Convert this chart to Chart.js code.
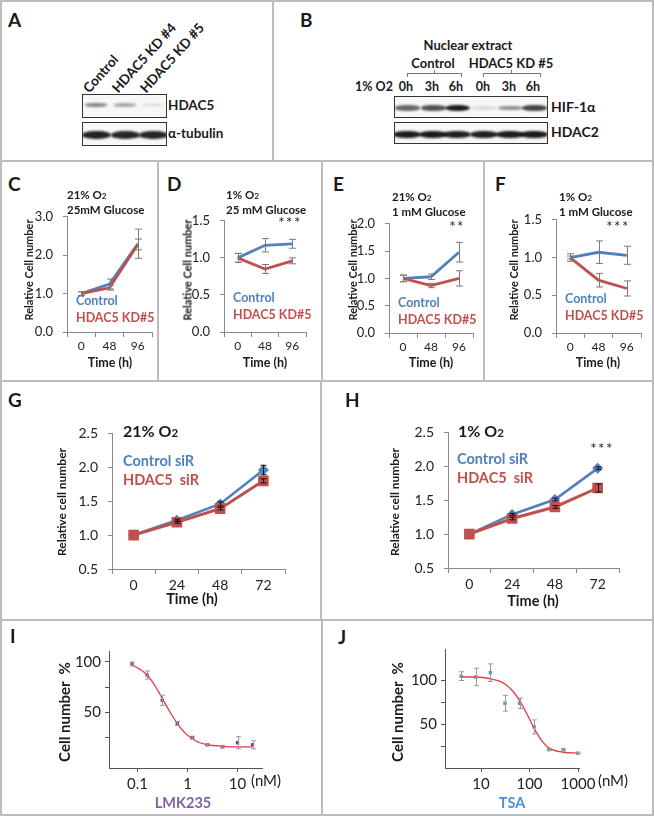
<!DOCTYPE html>
<html><head><meta charset="utf-8">
<script src="https://cdn.jsdelivr.net/npm/chart.js@4.4.1/dist/chart.umd.min.js"></script>
<style>
body{margin:0;background:#fff;}
#fig{position:relative;width:654px;height:816px;background:#fff;overflow:hidden;font-family:Lato,"Open Sans",sans-serif;color:#1a1a1a;}
.t{position:absolute;white-space:nowrap;line-height:1;z-index:5;}
canvas{position:absolute;z-index:2;}
.ln{position:absolute;background:#bcbcbc;z-index:1;}
.box{position:absolute;border:1.5px solid #333;box-sizing:border-box;background:#f7f7f7;overflow:hidden;z-index:3;}
.band{position:absolute;border-radius:45%;filter:blur(1.1px);}
.br{position:absolute;border:1px solid #777;border-bottom:none;height:3px;z-index:3;}
.brm{position:absolute;width:1px;height:3px;background:#777;z-index:3;}
</style></head><body><div id="fig"></div>
<script>
// ---------------- DATA ----------------
const lanesA = ['Control', 'HDAC5 KD #4', 'HDAC5 KD #5'];
const hdac5Band = [0.5, 0.35, 0.14];
const tubulinBand = [0.92, 0.9, 0.9];
const lanesB = ['0h', '3h', '6h', '0h', '3h', '6h'];
const hifBand = [0.62, 0.72, 0.95, 0.12, 0.45, 0.78];
const hdac2Band = [0.95, 0.95, 0.93, 0.93, 0.95, 0.95];

const timeCF = ['0', '48', '96'];
const cCtrl = [1.0, 1.25, 2.30], cCtrlErr = [0.05, 0.13, 0.38];
const cKD = [1.0, 1.15, 2.28], cKDErr = [0.05, 0.06, 0.14];
const dCtrl = [1.0, 1.17, 1.19], dCtrlErr = [0.06, 0.09, 0.06];
const dKD = [1.0, 0.85, 0.96], dKDErr = [0.06, 0.06, 0.04];
const eCtrl = [1.0, 1.03, 1.48], eCtrlErr = [0.06, 0.05, 0.18];
const eKD = [1.0, 0.87, 1.0], eKDErr = [0.06, 0.04, 0.14];
const fCtrl = [1.0, 1.07, 1.03], fCtrlErr = [0.05, 0.15, 0.12];
const fKD = [1.0, 0.70, 0.59], fKDErr = [0.02, 0.09, 0.10];

const timeGH = ['0', '24', '48', '72'];
const gCtrl = [1.0, 1.22, 1.46, 1.96], gCtrlErr = [0, 0.015, 0.03, 0.07];
const gKD = [1.0, 1.19, 1.39, 1.80], gKDErr = [0, 0.015, 0.02, 0.03];
const hCtrl = [1.0, 1.29, 1.51, 1.97], hCtrlErr = [0, 0.015, 0.02, 0.02];
const hKD = [1.0, 1.23, 1.40, 1.68], hKDErr = [0, 0.02, 0.02, 0.06];

const iConc = [0.078, 0.156, 0.3125, 0.625, 1.25, 2.5, 5, 10, 20];
const iCell = [98, 87, 62, 39, 25, 18, 16, 20, 18];
const iErr = [2, 4, 5, 2, 1.5, 1, 1, 6, 4];
const iFitX = [0.078, 0.11, 0.156, 0.22, 0.3125, 0.44, 0.625, 0.88, 1.25, 1.77, 2.5, 5, 10, 20];
const iFitY = [97, 93, 87, 77, 64, 51, 39, 30, 24, 20, 18, 16.5, 16, 16];
const iTicksX = [0.1, 1, 10];

const jConc = [3.9, 7.8, 15.6, 31.25, 62.5, 125, 250, 500, 1000];
const jCell = [105, 104, 109, 74, 74, 47, 21, 21, 17];
const jErr = [5, 10, 10, 9, 6, 8, 1, 1, 1];
const jFitX = [3.9, 7.8, 15.6, 25, 31.25, 45, 62.5, 90, 125, 180, 250, 500, 1000];
const jFitY = [104, 104, 102, 99, 96, 88, 77, 61, 45, 31, 23, 18, 17];
const jTicksX = [10, 100, 1000];
const doseTicksY = [25, 50, 75, 100];
const doseLabelsY = [50, 100];

// ---------------- HELPERS ----------------
const fig = document.getElementById('fig');
const BLUE = '#4f81bd', RED = '#c0504d', AX = '#8a8a8a';
Chart.defaults.font.family = 'Lato, "Open Sans", sans-serif';
Chart.defaults.color = '#222';

function T(x, y, html, o) {
  o = o || {};
  const d = document.createElement('div');
  d.className = 't'; d.innerHTML = html;
  d.style.left = x + 'px'; d.style.top = y + 'px';
  d.style.fontSize = (o.s || 12) + 'px';
  d.style.fontWeight = o.n ? 'normal' : 'bold';
  if (o.c) d.style.color = o.c;
  if (o.ls) d.style.letterSpacing = o.ls + 'px';
  const ax = o.a === 'c' ? '-50%' : o.a === 'r' ? '-100%' : '0';
  d.style.transform = `translate(${ax},-50%)` + (o.rot ? ` rotate(${o.rot}deg)` : '');
  fig.appendChild(d);
  return d;
}
function L(x, y, w, h) { const d = document.createElement('div'); d.className = 'ln'; Object.assign(d.style, {left: x + 'px', top: y + 'px', width: w + 'px', height: h + 'px'}); fig.appendChild(d); }
function box(x1, y1, x2, y2) { const d = document.createElement('div'); d.className = 'box'; Object.assign(d.style, {left: x1 + 'px', top: y1 + 'px', width: (x2 - x1) + 'px', height: (y2 - y1) + 'px'}); fig.appendChild(d); return d; }
function bands(bx, x0, y0, centers, vals, w, hBase, hVar, yc) {
  vals.forEach((a, i) => {
    const h = hBase + hVar * a;
    const d = document.createElement('div'); d.className = 'band';
    Object.assign(d.style, {left: (centers[i] - w / 2 - x0) + 'px', top: (yc - h / 2 - y0) + 'px', width: w + 'px', height: h + 'px', background: `rgba(15,15,15,${a})`});
    bx.appendChild(d);
  });
}
const O2 = 'O<span style="font-size:72%">2</span>';

const errPlugin = {
  id: 'errbars',
  afterDatasetsDraw(chart) {
    const ctx = chart.ctx;
    chart.data.datasets.forEach((ds, di) => {
      if (!ds.errors) return;
      const meta = chart.getDatasetMeta(di);
      const ys = chart.scales[meta.yAxisID];
      ctx.save(); ctx.strokeStyle = ds.errorColor || '#555'; ctx.lineWidth = 1;
      meta.data.forEach((pt, i) => {
        const v = ds.data[i]; const val = (typeof v === 'object') ? v.y : v;
        const e = ds.errors[i]; if (!e) return;
        const x = Math.round(pt.x) + 0.5, y1 = ys.getPixelForValue(val + e), y2 = ys.getPixelForValue(val - e), cw = ds.capWidth || 3;
        ctx.beginPath();
        ctx.moveTo(x, y1); ctx.lineTo(x, y2);
        ctx.moveTo(x - cw, y1); ctx.lineTo(x + cw, y1);
        ctx.moveTo(x - cw, y2); ctx.lineTo(x + cw, y2);
        ctx.stroke();
      });
      ctx.restore();
    });
  }
};

function mk(area, pad, config) {
  const c = document.createElement('canvas');
  const W = area.r - area.l + pad.l + pad.r, H = area.b - area.t + pad.t + pad.b;
  c.width = W; c.height = H;
  Object.assign(c.style, {left: (area.l - pad.l) + 'px', top: (area.t - pad.t) + 'px', width: W + 'px', height: H + 'px'});
  fig.appendChild(c);
  const o = config.options;
  o.responsive = false; o.animation = false; o.devicePixelRatio = 1;
  o.layout = {padding: {top: pad.t, right: pad.r, left: 0, bottom: 0}};
  o.plugins = {legend: {display: false}, tooltip: {enabled: false}};
  o.scales.x.afterFit = s => { s.height = pad.b; };
  o.scales.y.afterFit = s => { s.width = pad.l; };
  config.plugins = [errPlugin];
  return new Chart(c, config);
}

function lineChart(area, labels, sets, y, opt) {
  const pad = {l: 60, r: 12, t: 12, b: 40};
  return mk(area, pad, {
    type: 'line',
    data: {labels, datasets: sets.map(s => ({
      data: s.data, errors: s.err, borderColor: s.color, backgroundColor: s.color,
      borderWidth: s.bw || 2.8, pointRadius: s.pr || 0, pointStyle: s.ps || 'circle',
      pointBorderWidth: 0, tension: 0, errorColor: opt.errColor, capWidth: opt.cap
    }))},
    options: {scales: {
      x: {type: 'category', offset: true,
        grid: {offset: true, drawOnChartArea: false, tickLength: 5, color: AX},
        border: {color: AX, width: 1},
        ticks: {font: {size: opt.xfs}, padding: opt.xpad, maxRotation: 0, autoSkip: false}},
      y: {type: 'linear', min: y.min, max: y.max,
        grid: {drawOnChartArea: false, tickLength: 4, color: AX},
        border: {color: AX, width: 1},
        ticks: {stepSize: y.step, font: {size: opt.yfs}, padding: opt.ypad, callback: v => v.toFixed(1)}}
    }}
  });
}

function doseChart(area, conc, cell, err, fx, fy, xr, yr, xt, color) {
  const pad = {l: 60, r: 30, t: 12, b: 40};
  return mk(area, pad, {
    type: 'scatter',
    data: {datasets: [
      {data: fx.map((x, i) => ({x, y: fy[i]})), showLine: true, borderColor: '#e63c44', borderWidth: 1.3,
       pointRadius: 0, cubicInterpolationMode: 'monotone'},
      {data: conc.map((x, i) => ({x, y: cell[i]})), errors: err, pointStyle: 'rect', pointRadius: 2.4,
       backgroundColor: color, borderColor: color, borderWidth: 0, errorColor: '#9a9a9a', capWidth: 2.5}
    ]},
    options: {scales: {
      x: {type: 'logarithmic', min: xr[0], max: xr[1],
        afterBuildTicks: s => { s.ticks = xt.map(v => ({value: v})); },
        grid: {drawOnChartArea: false, tickLength: 4, color: '#555'},
        border: {color: '#555', width: 1},
        ticks: {font: {size: 15}, padding: 3, maxRotation: 0, autoSkip: false, callback: v => String(v)}},
      y: {type: 'linear', min: yr[0], max: yr[1],
        afterBuildTicks: s => { s.ticks = doseTicksY.map(v => ({value: v})); },
        grid: {drawOnChartArea: false, tickLength: 4, color: '#555'},
        border: {color: '#555', width: 1},
        ticks: {font: {size: 15}, padding: 4, callback: v => doseLabelsY.includes(v) ? String(v) : ''}}
    }}
  });
}

// ---------------- FRAME ----------------
L(0, 0, 654, 2); L(0, 814, 654, 2); L(0, 0, 2, 816); L(652, 0, 2, 816);
L(0, 160, 654, 2); L(0, 380, 654, 2); L(0, 619, 654, 2);
L(272, 0, 2, 161); L(157, 161, 2, 220); L(321, 161, 2, 220); L(483, 161, 2, 220);
L(320, 381, 2, 239); L(321, 620, 2, 196);

// ---------------- PANEL A ----------------
T(8, 19, 'A', {s: 19});
const bA1 = box(82, 94, 167, 118), bA2 = box(82, 122, 167, 146);
const lanesAx = [95, 124, 152];
bands(bA1, 82, 94, lanesAx, hdac5Band, 22, 2.5, 1.5, 104);
bands(bA2, 82, 122, lanesAx, tubulinBand, 29, 5, 4, 134);
T(168, 106, 'HDAC5', {s: 13.5});
T(168, 134, 'α-tubulin', {s: 13.5});
lanesA.forEach((s, i) => {
  const d = T(lanesAx[i] - 4, 0, s, {s: 13.5});
  d.style.top = (95 - 13.5) + 'px';
  d.style.transformOrigin = '0 100%';
  d.style.transform = 'rotate(-48deg)';
});

// ---------------- PANEL B ----------------
T(300, 19, 'B', {s: 19});
T(468, 45, 'Nuclear extract', {s: 13, a: 'c'});
T(433, 63, 'Control', {s: 13, a: 'c'});
T(511, 63, 'HDAC5 KD #5', {s: 13, a: 'c'});
[[407, 460], [483, 539]].forEach(([a, b]) => {
  const d = document.createElement('div'); d.className = 'br';
  Object.assign(d.style, {left: a + 'px', top: '73px', width: (b - a) + 'px'}); fig.appendChild(d);
  const m = document.createElement('div'); m.className = 'brm';
  Object.assign(m.style, {left: Math.round((a + b) / 2) + 'px', top: '70px'}); fig.appendChild(m);
});
T(355, 87, '1% O2', {s: 12.5});
const lanesBx = [406, 432, 456, 483, 509, 533];
lanesB.forEach((s, i) => T(lanesBx[i], 87, s, {s: 12.5, a: 'c'}));
const bB1 = box(394, 96, 548, 118), bB2 = box(394, 122, 548, 144);
bands(bB1, 394, 96, lanesBx, hifBand, 25, 3, 4, 107);
bands(bB2, 394, 122, lanesBx, hdac2Band, 28, 5, 3, 133.5);
T(551, 107, 'HIF-1α', {s: 14});
T(551, 132, 'HDAC2', {s: 14});

// ---------------- PANELS C-F ----------------
const cfOpt = {xfs: 12, yfs: 13, xpad: 2, ypad: 10, errColor: '#7a7a7a', cap: 3.5};
lineChart({l: 67, r: 152, t: 211, b: 332}, timeCF,
  [{data: cKD, err: cKDErr, color: RED}, {data: cCtrl, err: cCtrlErr, color: BLUE}], {min: 0, max: 3, step: 1}, cfOpt);
lineChart({l: 224, r: 306, t: 215, b: 332}, timeCF,
  [{data: dKD, err: dKDErr, color: RED}, {data: dCtrl, err: dCtrlErr, color: BLUE}], {min: 0, max: 1.5, step: 0.5}, cfOpt);
lineChart({l: 389, r: 473, t: 218, b: 333}, timeCF,
  [{data: eKD, err: eKDErr, color: RED}, {data: eCtrl, err: eCtrlErr, color: BLUE}], {min: 0, max: 2, step: 0.5}, cfOpt);
lineChart({l: 556, r: 641, t: 214, b: 333}, timeCF,
  [{data: fKD, err: fKDErr, color: RED}, {data: fCtrl, err: fCtrlErr, color: BLUE}], {min: 0, max: 1.5, step: 0.5}, cfOpt);

T(8, 183, 'C', {s: 19}); T(167, 183, 'D', {s: 19}); T(333, 183, 'E', {s: 19}); T(495, 183, 'F', {s: 19});
const cfTitles = [[67, 195, '21% ' + O2, '25mM Glucose'], [226, 195, '1% ' + O2, '25 mM Glucose'],
  [392, 197, '21% ' + O2, '1 mM Glucose'], [559, 197, '1% ' + O2, '1 mM Glucose']];
cfTitles.forEach(([x, y, a, b]) => { T(x, y, a, {s: 11.5}); T(x, y + 15, b, {s: 11.5}); });
[[76, 301], [233, 298], [398, 303], [565, 299]].forEach(([x, y]) => {
  T(x, y, 'Control', {s: 12.5, c: BLUE}); T(x, y + 17, 'HDAC5 KD#5', {s: 12.5, c: RED});
});
[28, 187, 352, 513].forEach(x => T(x, 270, 'Relative Cell number', {s: 11, a: 'c', rot: -90}));
[110, 265, 431, 598].forEach(x => T(x, 363, 'Time (h)', {s: 12.5, a: 'c'}));
T(290, 222, '***', {s: 15, a: 'c', n: true, ls: 1.5});
T(457, 226, '**', {s: 15, a: 'c', n: true, ls: 1.5});
T(618, 226, '***', {s: 15, a: 'c', n: true, ls: 1.5});

// ---------------- PANELS G-H ----------------
const ghOpt = {xfs: 14, yfs: 14, xpad: 3, ypad: 10, errColor: '#111', cap: 3};
lineChart({l: 112, r: 285, t: 427, b: 569}, timeGH,
  [{data: gKD, err: gKDErr, color: RED, pr: 7.5, ps: 'rect', bw: 3},
   {data: gCtrl, err: gCtrlErr, color: BLUE, pr: 5.5, ps: 'rectRot', bw: 2.6}], {min: 0.5, max: 2.5, step: 0.5}, ghOpt);
lineChart({l: 448, r: 619, t: 426, b: 568}, timeGH,
  [{data: hKD, err: hKDErr, color: RED, pr: 7.5, ps: 'rect', bw: 3},
   {data: hCtrl, err: hCtrlErr, color: BLUE, pr: 5.5, ps: 'rectRot', bw: 2.6}], {min: 0.5, max: 2.5, step: 0.5}, ghOpt);
T(8, 399, 'G', {s: 19}); T(345, 399, 'H', {s: 19});
T(123, 431, '21% ' + O2, {s: 16}); T(123, 461, 'Control siR', {s: 14.5, c: BLUE}); T(123, 480, 'HDAC5&nbsp; siR', {s: 14.5, c: RED});
T(458, 431, '1% ' + O2, {s: 16}); T(457, 459, 'Control siR', {s: 14.5, c: BLUE}); T(457, 478, 'HDAC5&nbsp; siR', {s: 14.5, c: RED});
T(602, 448, '***', {s: 15, a: 'c', n: true, ls: 1.5});
T(62, 502, 'Relative cell number', {s: 12, a: 'c', rot: -90});
T(395, 502, 'Relative cell number', {s: 12, a: 'c', rot: -90});
T(192, 599, 'Time (h)', {s: 14.5, a: 'c'});
T(533, 601, 'Time (h)', {s: 14.5, a: 'c'});

// ---------------- PANELS I-J ----------------
doseChart({l: 109, r: 262, t: 650, b: 768}, iConc, iCell, iErr, iFitX, iFitY, [0.0269, 30.9], [-5, 110.8], iTicksX, '#5a4a98');
doseChart({l: 445, r: 579, t: 648, b: 768}, jConc, jCell, jErr, jFitX, jFitY, [1.81, 1048], [0, 136], jTicksX, '#5b8fd0');
T(10, 635, 'I', {s: 19}); T(338, 636, 'J', {s: 19});
T(64, 712, 'Cell number&nbsp; %', {s: 15, a: 'c', rot: -90});
T(397, 712, 'Cell number&nbsp; %', {s: 15, a: 'c', rot: -90});
T(251, 780, '(nM)', {s: 15, n: true});
T(598, 780, '(nM)', {s: 15, n: true});
T(183, 803, 'LMK235', {s: 14.5, a: 'c', c: '#8064a2'});
T(512, 803, 'TSA', {s: 14.5, a: 'c', c: '#4f8fd6'});
</script></body></html>
